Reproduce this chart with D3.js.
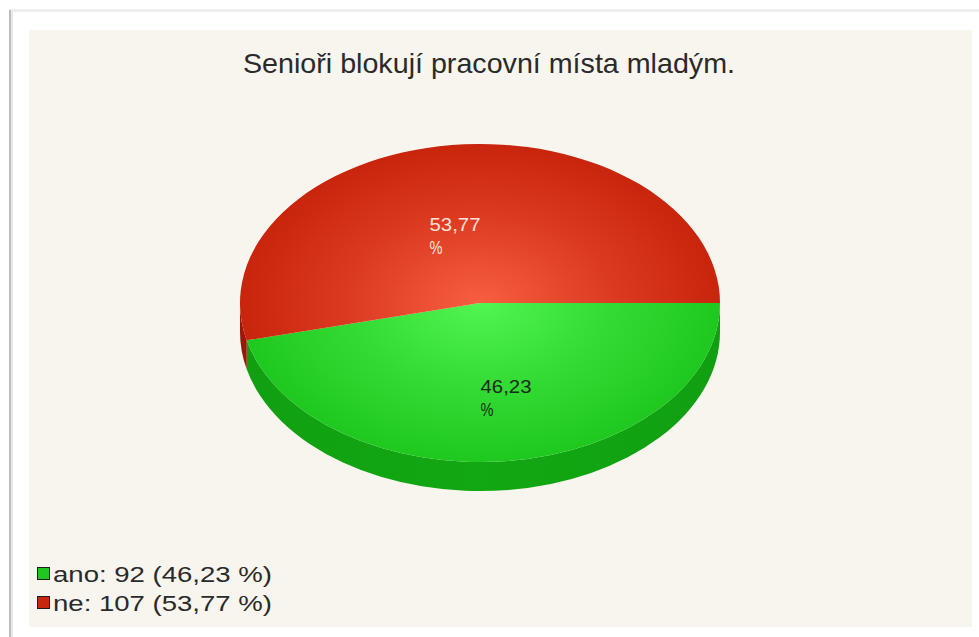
<!DOCTYPE html>
<html>
<head>
<meta charset="utf-8">
<script src="https://cdn.jsdelivr.net/npm/d3@7"></script>
<style>
  html, body { margin: 0; padding: 0; background: #ffffff; }
  svg { display: block; }
</style>
</head>
<body>
<script>
// Survey answers
const categories = ["ano", "ne"];
const counts = [92, 107];
const titleText = "Senioři blokují pracovní místa mladým.";

// Palette per answer: top face (light centre / dark rim), side wall, legend swatch, label ink
const topLight = ["#52f552", "#f85e40"];
const topDark = ["#1fc81f", "#c9240c"];
const sideColors = ["#12a812", "#a3180a"];
const swatchColors = ["#22c622", "#c8260e"];
const labelInk = ["#1b2a1b", "#fde3da"];

const W = 979, H = 637;
const cx = 480, cy = 303, rx = 240, ry = 159, depth = 29;

const total = d3.sum(counts);
const rows = categories.map((c, i) => ({ key: c, count: counts[i], i }));
const fmtPct = v => d3.format(".2f")(v).replace(".", ",");

const svg = d3.select("body").append("svg").attr("width", W).attr("height", H);
const defs = svg.append("defs");

// page frame
svg.append("rect").attr("x", 10).attr("y", 9).attr("width", W - 10).attr("height", 3).attr("fill", "#eeeeee");
svg.append("rect").attr("x", 9).attr("y", 10).attr("width", 2).attr("height", H - 10).attr("fill", "#bcbcbc");
svg.append("rect").attr("x", 11).attr("y", 12).attr("width", 2).attr("height", H - 12).attr("fill", "#e8e8e8");

// chart panel
svg.append("rect").attr("x", 29).attr("y", 30).attr("width", 943).attr("height", 597).attr("fill", "#f7f5ee");

const font = "Liberation Sans, Arial, sans-serif";

// title
svg.append("text")
  .attr("x", 243).attr("y", 73)
  .attr("font-family", font)
  .attr("font-size", 28)
  .attr("fill", "#2a2a2a")
  .attr("textLength", 492).attr("lengthAdjust", "spacingAndGlyphs")
  .text(titleText);

// pie layout: first slice starts at 3 o'clock and runs clockwise
const pie = d3.pie().sort(null).value(d => d.count)
  .startAngle(Math.PI / 2).endAngle(Math.PI / 2 + 2 * Math.PI);
const arcs = pie(rows);

const pt = (a, dy = 0) => [cx + rx * Math.sin(a), cy - ry * Math.cos(a) + dy];
const P = p => p[0].toFixed(2) + "," + p[1].toFixed(2);

// gradients
rows.forEach((d, i) => {
  const g = defs.append("radialGradient")
    .attr("id", "top" + i)
    .attr("gradientUnits", "userSpaceOnUse")
    .attr("cx", cx).attr("cy", cy).attr("r", rx)
    .attr("fx", cx).attr("fy", cy)
    .attr("gradientTransform", `translate(${cx},${cy}) scale(1,${ry / rx}) translate(${-cx},${-cy})`);
  g.append("stop").attr("offset", 0).attr("stop-color", topLight[i]);
  g.append("stop").attr("offset", 0.55).attr("stop-color", d3.interpolateRgb(topLight[i], topDark[i])(0.6));
  g.append("stop").attr("offset", 1).attr("stop-color", topDark[i]);

  const s = defs.append("linearGradient")
    .attr("id", "side" + i)
    .attr("gradientUnits", "userSpaceOnUse")
    .attr("x1", cx - rx).attr("x2", cx + rx).attr("y1", 0).attr("y2", 0);
  s.append("stop").attr("offset", 0).attr("stop-color", d3.color(sideColors[i]).darker(0.15));
  s.append("stop").attr("offset", 0.5).attr("stop-color", sideColors[i]);
  s.append("stop").attr("offset", 1).attr("stop-color", d3.color(sideColors[i]).darker(0.15));
});

const pieG = svg.append("g");

// side walls (front half only: angles PI/2 .. 3PI/2)
arcs.forEach(a => {
  const s = Math.max(a.startAngle, Math.PI / 2);
  const e = Math.min(a.endAngle, 3 * Math.PI / 2);
  if (e <= s) return;
  const path = `M${P(pt(s))} A${rx},${ry} 0 0 1 ${P(pt(e))} L${P(pt(e, depth))} A${rx},${ry} 0 0 0 ${P(pt(s, depth))} Z`;
  pieG.append("path").attr("d", path).attr("fill", `url(#side${a.data.i})`);
});

// top faces
arcs.forEach(a => {
  const large = (a.endAngle - a.startAngle) > Math.PI ? 1 : 0;
  const path = `M${cx},${cy} L${P(pt(a.startAngle))} A${rx},${ry} 0 ${large} 1 ${P(pt(a.endAngle))} Z`;
  pieG.append("path").attr("d", path).attr("fill", `url(#top${a.data.i})`);
});

// percentage labels inside the slices (value on one line, "%" below)
const labelShift = -5 * Math.PI / 180;
arcs.forEach(a => {
  const mid = (a.startAngle + a.endAngle) / 2 + labelShift;
  const p = [cx + 0.52 * rx * Math.sin(mid), cy - 0.52 * ry * Math.cos(mid)];
  const x0 = p[0] - 25;
  const g = svg.append("g")
    .attr("font-family", font)
    .attr("font-size", 19)
    .attr("fill", labelInk[a.data.i]);
  g.append("text").attr("x", x0).attr("y", p[1] + 9)
    .attr("textLength", 51).attr("lengthAdjust", "spacingAndGlyphs")
    .text(fmtPct(100 * a.data.count / total));
  g.append("text").attr("x", x0).attr("y", p[1] + 32)
    .attr("textLength", 13).attr("lengthAdjust", "spacingAndGlyphs")
    .text("%");
});

// legend
const legend = svg.append("g");
rows.forEach((d, i) => {
  const y = 567 + i * 29;
  legend.append("rect").attr("x", 37.5).attr("y", y + 0.5).attr("width", 12).attr("height", 12)
    .attr("fill", swatchColors[i]).attr("stroke", "#1e1e1e").attr("stroke-width", 1);
  legend.append("text")
    .attr("x", 53).attr("y", y + 15)
    .attr("font-family", font)
    .attr("font-size", 22)
    .attr("fill", "#2a2a2a")
    .attr("textLength", 219).attr("lengthAdjust", "spacingAndGlyphs")
    .text(`${d.key}: ${d.count} (${fmtPct(100 * d.count / total)} %)`);
});
</script>
</body>
</html>
